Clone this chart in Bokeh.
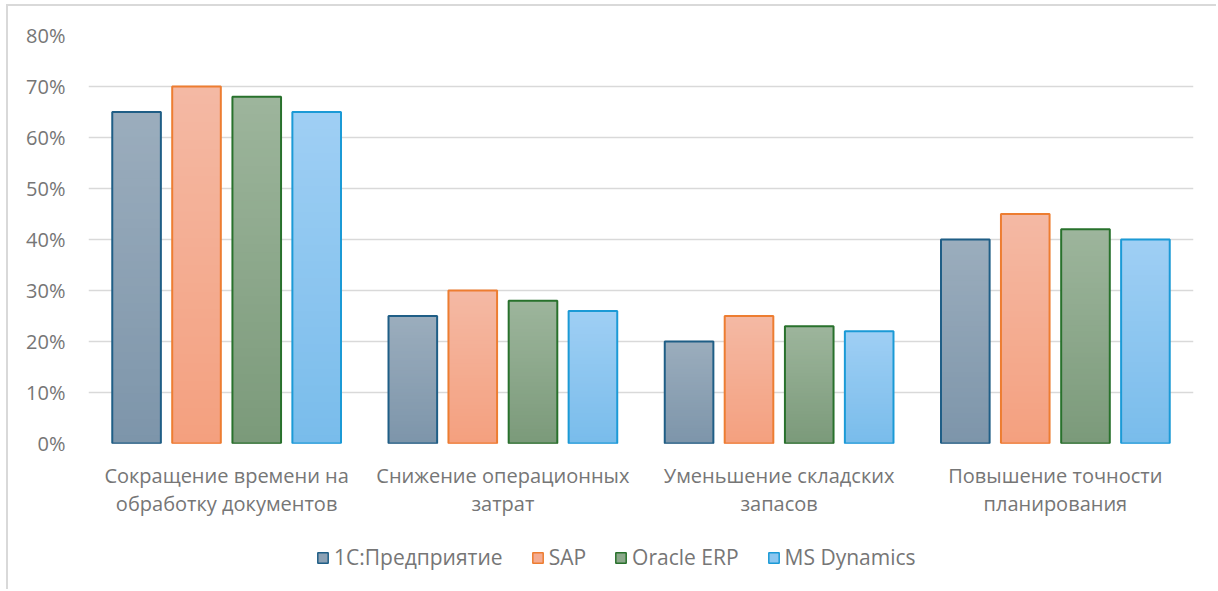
import numpy as np
from bokeh.plotting import figure
from bokeh.layouts import column
from bokeh.models import (ColumnDataSource, FactorRange, FixedTicker, NumeralTickFormatter,
                          Legend, LegendItem, Range1d)
from bokeh.transform import dodge
from bokeh.embed import file_html
from bokeh.resources import INLINE

categories = ["Сокращение времени на\nобработку документов",
              "Снижение операционных\nзатрат",
              "Уменьшение складских\nзапасов",
              "Повышение точности\nпланирования"]
series = ["1С:Предприятие", "SAP", "Oracle ERP", "MS Dynamics"]
v_1c = [0.65, 0.25, 0.20, 0.40]
v_sap = [0.70, 0.30, 0.25, 0.45]
v_oracle = [0.68, 0.28, 0.23, 0.42]
v_ms = [0.65, 0.26, 0.22, 0.40]
y_ticks = [0, 0.1, 0.2, 0.3, 0.4, 0.5, 0.6, 0.7, 0.8]

values = [v_1c, v_sap, v_oracle, v_ms]
top_colors = ["#9badbd", "#f4b9a4", "#9db59c", "#9fcff4"]
bottom_colors = ["#7d95aa", "#f4a07f", "#7b9a7a", "#79bceb"]
line_colors = ["#1f5e86", "#ed7d31", "#28712c", "#1b9ad6"]
offsets = [-0.326, -0.109, 0.109, 0.326]
BAR_W = 0.176
FONT = "Open Sans"
TXT = "#767676"
GRID = "#d9d9d9"
W = 1208
H_MAIN = 524
H_LEG = 59


def hex2rgb(h):
    return np.array([int(h[i:i + 2], 16) for i in (1, 3, 5)], dtype=float)


def mix(c0, c1, t):
    c = hex2rgb(c0) * (1 - t) + hex2rgb(c1) * t
    return "#%02x%02x%02x" % tuple(int(round(x)) for x in c)


p = figure(x_range=FactorRange(*categories, range_padding=0),
           y_range=Range1d(0, 0.8),
           width=W, height=H_MAIN, output_backend="svg", toolbar_location=None,
           min_border_left=80, min_border_top=29, min_border_right=23, min_border_bottom=87)
p.outline_line_color = None
p.xgrid.grid_line_color = None
p.ygrid.grid_line_color = GRID
p.ygrid.grid_line_width = 1.5
p.yaxis.ticker = FixedTicker(ticks=y_ticks)
p.yaxis.formatter = NumeralTickFormatter(format="0%")
for ax in (p.xaxis, p.yaxis):
    ax.axis_line_color = None
    ax.major_tick_line_color = None
    ax.minor_tick_line_color = None
    ax.major_label_text_font = FONT
    ax.major_label_text_font_size = "20px"
    ax.major_label_text_color = TXT
p.yaxis.major_label_standoff = 17
p.xaxis.major_label_standoff = 12
p.xaxis.major_label_text_line_height = 1.07

N = 40
for si, s in enumerate(series):
    vals = np.array(values[si])
    for k in range(N, 0, -1):
        t = (k - 0.5) / N
        col = mix(bottom_colors[si], top_colors[si], t)
        src = ColumnDataSource(dict(cat=categories, top=vals * k / N))
        p.vbar(x=dodge("cat", offsets[si], range=p.x_range), top="top", bottom=0,
               width=BAR_W, source=src, fill_color=col, line_color=None)
    src = ColumnDataSource(dict(cat=categories, top=vals))
    p.vbar(x=dodge("cat", offsets[si], range=p.x_range), top="top", bottom=0,
           width=BAR_W, source=src, fill_color=None, line_color=line_colors[si],
           line_width=2)

# legend strip (separate figure so the legend can sit exactly where the reference has it)
pl = figure(width=W, height=H_LEG, x_range=Range1d(0, 1), y_range=Range1d(0, 1),
            output_backend="svg", toolbar_location=None,
            min_border=0, min_border_left=0, min_border_right=0,
            min_border_top=0, min_border_bottom=0)
pl.axis.visible = False
pl.grid.visible = False
pl.outline_line_color = None
items = []
for si, s in enumerate(series):
    # proxy renderer: only its style is used by the legend
    src = ColumnDataSource(dict(cat=[s], top=[values[si][0]]))
    r = pl.vbar(x=-5.0, top=-5.0, bottom=-5.0, width=0.01, source=src,
                fill_color=mix(bottom_colors[si], top_colors[si], 0.5),
                line_color=line_colors[si], line_width=1.5, line_alpha=1.0)
    r.visible = False
    items.append(LegendItem(label=s, renderers=[r]))
legend = Legend(items=items, orientation="horizontal", location=(228, 18),
                padding=0, margin=0, spacing=28, label_standoff=5,
                glyph_width=13, glyph_height=13, border_line_color=None,
                background_fill_alpha=0, inactive_fill_alpha=0,
                label_text_font=FONT, label_text_font_size="21px",
                label_text_color=TXT)
pl.add_layout(legend, "center")

layout = column(p, pl, spacing=0)
layout.styles = {"border-left": "2px solid #d9d9d9", "border-top": "2px solid #d9d9d9",
                 "margin-left": "6px", "margin-top": "4px"}

open("out.html", "w").write(file_html(layout, INLINE))
